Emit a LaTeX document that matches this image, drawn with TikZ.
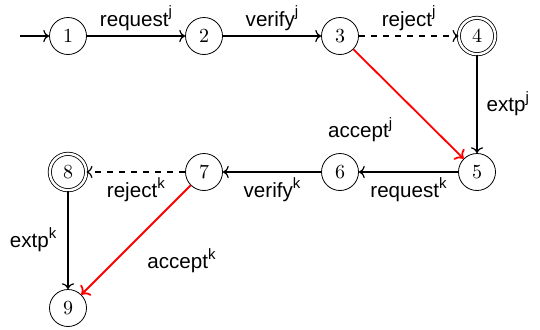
\documentclass[tikz,border=0pt]{standalone}
\usepackage{fontspec}
\newfontfamily\lblfont{Liberation Sans}
\newcommand\supx[1]{\raisebox{0.85ex}{\fontsize{7.5}{8}\selectfont #1}}
\usetikzlibrary{arrows.meta}
\begin{document}
\begin{tikzpicture}[x=1pt,y=1pt,
  state/.style={circle,draw,minimum size=18.5pt,inner sep=0pt,font=\fontsize{10}{12}\selectfont},
  final/.style={state,double,double distance=1.2pt,minimum size=18.2pt},
  tr/.style={->,line width=0.6pt},
  lbl/.style={font=\lblfont\fontsize{10.3}{12}\selectfont,inner sep=2.5pt,text=black},
  acc/.style={->,red,line width=0.9pt}]
\useasboundingbox (0,0) rectangle (270,-164.5);
\node[state] (n1) at (34,-18) {1};
\node[state] (n2) at (102,-18) {2};
\node[state] (n3) at (170,-18) {3};
\node[final] (n4) at (238.5,-18) {4};
\node[state] (n5) at (238.5,-86) {5};
\node[state] (n6) at (170,-86) {6};
\node[state] (n7) at (102,-86) {7};
\node[final] (n8) at (34,-86) {8};
\node[state] (n9) at (34,-154) {9};
\coordinate (start) at (10,-18);
\draw[tr] (start) -- (n1);
\draw[tr] (n1) -- node[lbl,above] {request\supx{j}} (n2);
\draw[tr] (n2) -- node[lbl,above] {verify\supx{j}} (n3);
\draw[tr,dashed] (n3) -- node[lbl,above] {reject\supx{j}} (n4);
\draw[tr] (n4) -- node[lbl,right,xshift=2pt] {extp\supx{j}} (n5);
\draw[acc] (n3) -- node[lbl,below left,pos=0.55,xshift=-8pt,yshift=-1pt] {accept\supx{j}} (n5);
\draw[tr] (n5) -- node[lbl,below] {request\supx{k}} (n6);
\draw[tr] (n6) -- node[lbl,below] {verify\supx{k}} (n7);
\draw[tr,dashed] (n7) -- node[lbl,below] {reject\supx{k}} (n8);
\draw[tr] (n8) -- node[lbl,left,xshift=-3pt] {extp\supx{k}} (n9);
\draw[acc] (n7) -- node[lbl,below right,pos=0.45,xshift=0pt,yshift=-4pt] {accept\supx{k}} (n9);
\end{tikzpicture}
\end{document}
